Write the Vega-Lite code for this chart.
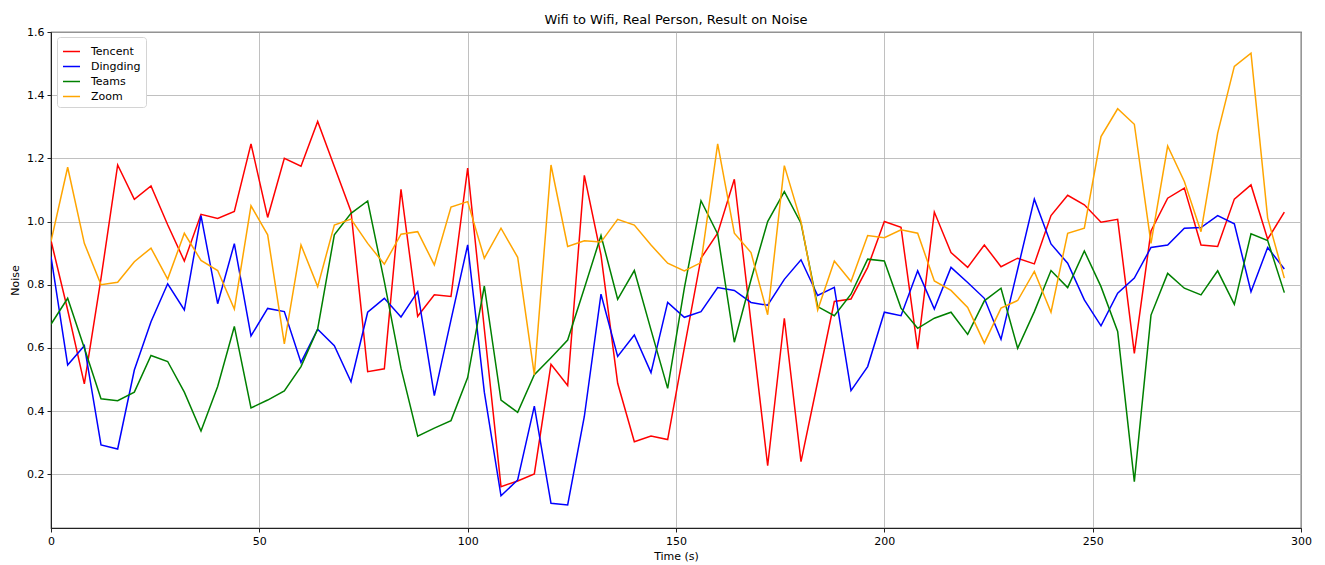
{
  "$schema": "https://vega.github.io/schema/vega-lite/v6.json",
  "width": 1250,
  "height": 496,
  "autosize": {"type": "none"},
  "padding": {"left": 51, "top": 32, "right": 24, "bottom": 37},
  "background": "white",
  "title": {
    "text": "Wifi to Wifi, Real Person, Result on Noise",
    "fontSize": 13,
    "fontWeight": "normal",
    "font": "DejaVu Sans",
    "color": "black",
    "anchor": "middle",
    "offset": -1
  },
  "config": {
    "font": "DejaVu Sans",
    "view": {"stroke": "#222222", "strokeWidth": 1.2},
    "axis": {
      "labelFont": "DejaVu Sans",
      "titleFont": "DejaVu Sans",
      "labelFontSize": 11,
      "titleFontSize": 11,
      "titleFontWeight": "normal",
      "labelColor": "black",
      "titleColor": "black",
      "domainColor": "#222222",
      "tickColor": "#222222",
      "tickSize": 4,
      "gridColor": "#b0b0b0",
      "gridWidth": 0.8,
      "labelPadding": 3
    },
    "legend": {
      "labelFont": "DejaVu Sans",
      "labelFontSize": 11,
      "labelColor": "black",
      "symbolType": "stroke",
      "symbolSize": 289,
      "symbolStrokeWidth": 1.5,
      "rowPadding": 0,
      "padding": 5,
      "strokeColor": "#d4d4d4",
      "fillColor": "white",
      "cornerRadius": 3,
      "labelOffset": 10
    }
  },
  "data": {
    "values": [
      {"t": 0, "app": "Tencent", "noise": 0.94}, {"t": 4, "app": "Tencent", "noise": 0.72}, {"t": 8, "app": "Tencent", "noise": 0.486}, {"t": 12, "app": "Tencent", "noise": 0.82}, {"t": 16, "app": "Tencent", "noise": 1.179}, {"t": 20, "app": "Tencent", "noise": 1.07}, {"t": 24, "app": "Tencent", "noise": 1.113}, {"t": 28, "app": "Tencent", "noise": 0.99}, {"t": 32, "app": "Tencent", "noise": 0.875}, {"t": 36, "app": "Tencent", "noise": 1.023}, {"t": 40, "app": "Tencent", "noise": 1.01}, {"t": 44, "app": "Tencent", "noise": 1.032}, {"t": 48, "app": "Tencent", "noise": 1.246},
      {"t": 52, "app": "Tencent", "noise": 1.013}, {"t": 56, "app": "Tencent", "noise": 1.2}, {"t": 60, "app": "Tencent", "noise": 1.175}, {"t": 64, "app": "Tencent", "noise": 1.317}, {"t": 68, "app": "Tencent", "noise": 1.174}, {"t": 72, "app": "Tencent", "noise": 1.032}, {"t": 76, "app": "Tencent", "noise": 0.525}, {"t": 80, "app": "Tencent", "noise": 0.534}, {"t": 84, "app": "Tencent", "noise": 1.102}, {"t": 88, "app": "Tencent", "noise": 0.7}, {"t": 92, "app": "Tencent", "noise": 0.768}, {"t": 96, "app": "Tencent", "noise": 0.763}, {"t": 100, "app": "Tencent", "noise": 1.169},
      {"t": 104, "app": "Tencent", "noise": 0.66}, {"t": 108, "app": "Tencent", "noise": 0.161}, {"t": 112, "app": "Tencent", "noise": 0.179}, {"t": 116, "app": "Tencent", "noise": 0.201}, {"t": 120, "app": "Tencent", "noise": 0.548}, {"t": 124, "app": "Tencent", "noise": 0.481}, {"t": 128, "app": "Tencent", "noise": 1.146}, {"t": 132, "app": "Tencent", "noise": 0.894}, {"t": 136, "app": "Tencent", "noise": 0.488}, {"t": 140, "app": "Tencent", "noise": 0.303}, {"t": 144, "app": "Tencent", "noise": 0.321}, {"t": 148, "app": "Tencent", "noise": 0.31},
      {"t": 152, "app": "Tencent", "noise": 0.6}, {"t": 156, "app": "Tencent", "noise": 0.884}, {"t": 160, "app": "Tencent", "noise": 0.963}, {"t": 164, "app": "Tencent", "noise": 1.134}, {"t": 168, "app": "Tencent", "noise": 0.68}, {"t": 172, "app": "Tencent", "noise": 0.227}, {"t": 176, "app": "Tencent", "noise": 0.694}, {"t": 180, "app": "Tencent", "noise": 0.24}, {"t": 184, "app": "Tencent", "noise": 0.493}, {"t": 188, "app": "Tencent", "noise": 0.747}, {"t": 192, "app": "Tencent", "noise": 0.755}, {"t": 196, "app": "Tencent", "noise": 0.855}, {"t": 200, "app": "Tencent", "noise": 1.0},
      {"t": 204, "app": "Tencent", "noise": 0.982}, {"t": 208, "app": "Tencent", "noise": 0.596}, {"t": 212, "app": "Tencent", "noise": 1.03}, {"t": 216, "app": "Tencent", "noise": 0.902}, {"t": 220, "app": "Tencent", "noise": 0.855}, {"t": 224, "app": "Tencent", "noise": 0.926}, {"t": 228, "app": "Tencent", "noise": 0.857}, {"t": 232, "app": "Tencent", "noise": 0.884}, {"t": 236, "app": "Tencent", "noise": 0.866}, {"t": 240, "app": "Tencent", "noise": 1.019}, {"t": 244, "app": "Tencent", "noise": 1.083}, {"t": 248, "app": "Tencent", "noise": 1.053},
      {"t": 252, "app": "Tencent", "noise": 0.998}, {"t": 256, "app": "Tencent", "noise": 1.007}, {"t": 260, "app": "Tencent", "noise": 0.583}, {"t": 264, "app": "Tencent", "noise": 0.97}, {"t": 268, "app": "Tencent", "noise": 1.074}, {"t": 272, "app": "Tencent", "noise": 1.106}, {"t": 276, "app": "Tencent", "noise": 0.926}, {"t": 280, "app": "Tencent", "noise": 0.921}, {"t": 284, "app": "Tencent", "noise": 1.071}, {"t": 288, "app": "Tencent", "noise": 1.116}, {"t": 292, "app": "Tencent", "noise": 0.944}, {"t": 296, "app": "Tencent", "noise": 1.03},

      {"t": 0, "app": "Dingding", "noise": 0.889}, {"t": 4, "app": "Dingding", "noise": 0.546}, {"t": 8, "app": "Dingding", "noise": 0.607}, {"t": 12, "app": "Dingding", "noise": 0.293}, {"t": 16, "app": "Dingding", "noise": 0.28}, {"t": 20, "app": "Dingding", "noise": 0.53}, {"t": 24, "app": "Dingding", "noise": 0.683}, {"t": 28, "app": "Dingding", "noise": 0.803}, {"t": 32, "app": "Dingding", "noise": 0.72}, {"t": 36, "app": "Dingding", "noise": 1.019}, {"t": 40, "app": "Dingding", "noise": 0.74}, {"t": 44, "app": "Dingding", "noise": 0.93}, {"t": 48, "app": "Dingding", "noise": 0.638},
      {"t": 52, "app": "Dingding", "noise": 0.725}, {"t": 56, "app": "Dingding", "noise": 0.715}, {"t": 60, "app": "Dingding", "noise": 0.554}, {"t": 64, "app": "Dingding", "noise": 0.659}, {"t": 68, "app": "Dingding", "noise": 0.607}, {"t": 72, "app": "Dingding", "noise": 0.493}, {"t": 76, "app": "Dingding", "noise": 0.713}, {"t": 80, "app": "Dingding", "noise": 0.757}, {"t": 84, "app": "Dingding", "noise": 0.698}, {"t": 88, "app": "Dingding", "noise": 0.778}, {"t": 92, "app": "Dingding", "noise": 0.449}, {"t": 96, "app": "Dingding", "noise": 0.689}, {"t": 100, "app": "Dingding", "noise": 0.926},
      {"t": 104, "app": "Dingding", "noise": 0.46}, {"t": 108, "app": "Dingding", "noise": 0.132}, {"t": 112, "app": "Dingding", "noise": 0.182}, {"t": 116, "app": "Dingding", "noise": 0.416}, {"t": 120, "app": "Dingding", "noise": 0.108}, {"t": 124, "app": "Dingding", "noise": 0.103}, {"t": 128, "app": "Dingding", "noise": 0.383}, {"t": 132, "app": "Dingding", "noise": 0.77}, {"t": 136, "app": "Dingding", "noise": 0.573}, {"t": 140, "app": "Dingding", "noise": 0.641}, {"t": 144, "app": "Dingding", "noise": 0.522}, {"t": 148, "app": "Dingding", "noise": 0.744},
      {"t": 152, "app": "Dingding", "noise": 0.697}, {"t": 156, "app": "Dingding", "noise": 0.715}, {"t": 160, "app": "Dingding", "noise": 0.791}, {"t": 164, "app": "Dingding", "noise": 0.782}, {"t": 168, "app": "Dingding", "noise": 0.744}, {"t": 172, "app": "Dingding", "noise": 0.735}, {"t": 176, "app": "Dingding", "noise": 0.817}, {"t": 180, "app": "Dingding", "noise": 0.879}, {"t": 184, "app": "Dingding", "noise": 0.766}, {"t": 188, "app": "Dingding", "noise": 0.792}, {"t": 192, "app": "Dingding", "noise": 0.465}, {"t": 196, "app": "Dingding", "noise": 0.541}, {"t": 200, "app": "Dingding", "noise": 0.713},
      {"t": 204, "app": "Dingding", "noise": 0.702}, {"t": 208, "app": "Dingding", "noise": 0.844}, {"t": 212, "app": "Dingding", "noise": 0.723}, {"t": 216, "app": "Dingding", "noise": 0.855}, {"t": 220, "app": "Dingding", "noise": 0.807}, {"t": 224, "app": "Dingding", "noise": 0.757}, {"t": 228, "app": "Dingding", "noise": 0.627}, {"t": 232, "app": "Dingding", "noise": 0.849}, {"t": 236, "app": "Dingding", "noise": 1.071}, {"t": 240, "app": "Dingding", "noise": 0.929}, {"t": 244, "app": "Dingding", "noise": 0.868}, {"t": 248, "app": "Dingding", "noise": 0.752},
      {"t": 252, "app": "Dingding", "noise": 0.67}, {"t": 256, "app": "Dingding", "noise": 0.773}, {"t": 260, "app": "Dingding", "noise": 0.821}, {"t": 264, "app": "Dingding", "noise": 0.918}, {"t": 268, "app": "Dingding", "noise": 0.926}, {"t": 272, "app": "Dingding", "noise": 0.979}, {"t": 276, "app": "Dingding", "noise": 0.981}, {"t": 280, "app": "Dingding", "noise": 1.019}, {"t": 284, "app": "Dingding", "noise": 0.993}, {"t": 288, "app": "Dingding", "noise": 0.778}, {"t": 292, "app": "Dingding", "noise": 0.918}, {"t": 296, "app": "Dingding", "noise": 0.85},

      {"t": 0, "app": "Teams", "noise": 0.675}, {"t": 4, "app": "Teams", "noise": 0.757}, {"t": 8, "app": "Teams", "noise": 0.6}, {"t": 12, "app": "Teams", "noise": 0.439}, {"t": 16, "app": "Teams", "noise": 0.433}, {"t": 20, "app": "Teams", "noise": 0.46}, {"t": 24, "app": "Teams", "noise": 0.576}, {"t": 28, "app": "Teams", "noise": 0.557}, {"t": 32, "app": "Teams", "noise": 0.46}, {"t": 36, "app": "Teams", "noise": 0.337}, {"t": 40, "app": "Teams", "noise": 0.478}, {"t": 44, "app": "Teams", "noise": 0.668}, {"t": 48, "app": "Teams", "noise": 0.41},
      {"t": 52, "app": "Teams", "noise": 0.435}, {"t": 56, "app": "Teams", "noise": 0.464}, {"t": 60, "app": "Teams", "noise": 0.541}, {"t": 64, "app": "Teams", "noise": 0.66}, {"t": 68, "app": "Teams", "noise": 0.958}, {"t": 72, "app": "Teams", "noise": 1.026}, {"t": 76, "app": "Teams", "noise": 1.065}, {"t": 80, "app": "Teams", "noise": 0.81}, {"t": 84, "app": "Teams", "noise": 0.536}, {"t": 88, "app": "Teams", "noise": 0.321}, {"t": 92, "app": "Teams", "noise": 0.346}, {"t": 96, "app": "Teams", "noise": 0.37}, {"t": 100, "app": "Teams", "noise": 0.506},
      {"t": 104, "app": "Teams", "noise": 0.796}, {"t": 108, "app": "Teams", "noise": 0.435}, {"t": 112, "app": "Teams", "noise": 0.396}, {"t": 116, "app": "Teams", "noise": 0.515}, {"t": 120, "app": "Teams", "noise": 0.569}, {"t": 124, "app": "Teams", "noise": 0.625}, {"t": 128, "app": "Teams", "noise": 0.789}, {"t": 132, "app": "Teams", "noise": 0.956}, {"t": 136, "app": "Teams", "noise": 0.754}, {"t": 140, "app": "Teams", "noise": 0.845}, {"t": 144, "app": "Teams", "noise": 0.657}, {"t": 148, "app": "Teams", "noise": 0.472},
      {"t": 152, "app": "Teams", "noise": 0.789}, {"t": 156, "app": "Teams", "noise": 1.066}, {"t": 160, "app": "Teams", "noise": 0.961}, {"t": 164, "app": "Teams", "noise": 0.618}, {"t": 168, "app": "Teams", "noise": 0.816}, {"t": 172, "app": "Teams", "noise": 1.0}, {"t": 176, "app": "Teams", "noise": 1.095}, {"t": 180, "app": "Teams", "noise": 0.995}, {"t": 184, "app": "Teams", "noise": 0.731}, {"t": 188, "app": "Teams", "noise": 0.702}, {"t": 192, "app": "Teams", "noise": 0.77}, {"t": 196, "app": "Teams", "noise": 0.881}, {"t": 200, "app": "Teams", "noise": 0.875},
      {"t": 204, "app": "Teams", "noise": 0.726}, {"t": 208, "app": "Teams", "noise": 0.662}, {"t": 212, "app": "Teams", "noise": 0.694}, {"t": 216, "app": "Teams", "noise": 0.713}, {"t": 220, "app": "Teams", "noise": 0.643}, {"t": 224, "app": "Teams", "noise": 0.749}, {"t": 228, "app": "Teams", "noise": 0.789}, {"t": 232, "app": "Teams", "noise": 0.599}, {"t": 236, "app": "Teams", "noise": 0.715}, {"t": 240, "app": "Teams", "noise": 0.845}, {"t": 244, "app": "Teams", "noise": 0.791}, {"t": 248, "app": "Teams", "noise": 0.907},
      {"t": 252, "app": "Teams", "noise": 0.794}, {"t": 256, "app": "Teams", "noise": 0.652}, {"t": 260, "app": "Teams", "noise": 0.177}, {"t": 264, "app": "Teams", "noise": 0.704}, {"t": 268, "app": "Teams", "noise": 0.836}, {"t": 272, "app": "Teams", "noise": 0.789}, {"t": 276, "app": "Teams", "noise": 0.768}, {"t": 280, "app": "Teams", "noise": 0.844}, {"t": 284, "app": "Teams", "noise": 0.738}, {"t": 288, "app": "Teams", "noise": 0.961}, {"t": 292, "app": "Teams", "noise": 0.94}, {"t": 296, "app": "Teams", "noise": 0.775},

      {"t": 0, "app": "Zoom", "noise": 0.937}, {"t": 4, "app": "Zoom", "noise": 1.172}, {"t": 8, "app": "Zoom", "noise": 0.931}, {"t": 12, "app": "Zoom", "noise": 0.8}, {"t": 16, "app": "Zoom", "noise": 0.808}, {"t": 20, "app": "Zoom", "noise": 0.873}, {"t": 24, "app": "Zoom", "noise": 0.916}, {"t": 28, "app": "Zoom", "noise": 0.818}, {"t": 32, "app": "Zoom", "noise": 0.963}, {"t": 36, "app": "Zoom", "noise": 0.877}, {"t": 40, "app": "Zoom", "noise": 0.845}, {"t": 44, "app": "Zoom", "noise": 0.723}, {"t": 48, "app": "Zoom", "noise": 1.05},
      {"t": 52, "app": "Zoom", "noise": 0.958}, {"t": 56, "app": "Zoom", "noise": 0.613}, {"t": 60, "app": "Zoom", "noise": 0.926}, {"t": 64, "app": "Zoom", "noise": 0.794}, {"t": 68, "app": "Zoom", "noise": 0.989}, {"t": 72, "app": "Zoom", "noise": 1.008}, {"t": 76, "app": "Zoom", "noise": 0.931}, {"t": 80, "app": "Zoom", "noise": 0.865}, {"t": 84, "app": "Zoom", "noise": 0.96}, {"t": 88, "app": "Zoom", "noise": 0.968}, {"t": 92, "app": "Zoom", "noise": 0.863}, {"t": 96, "app": "Zoom", "noise": 1.046}, {"t": 100, "app": "Zoom", "noise": 1.063},
      {"t": 104, "app": "Zoom", "noise": 0.884}, {"t": 108, "app": "Zoom", "noise": 0.979}, {"t": 112, "app": "Zoom", "noise": 0.887}, {"t": 116, "app": "Zoom", "noise": 0.515}, {"t": 120, "app": "Zoom", "noise": 1.179}, {"t": 124, "app": "Zoom", "noise": 0.921}, {"t": 128, "app": "Zoom", "noise": 0.939}, {"t": 132, "app": "Zoom", "noise": 0.935}, {"t": 136, "app": "Zoom", "noise": 1.007}, {"t": 140, "app": "Zoom", "noise": 0.989}, {"t": 144, "app": "Zoom", "noise": 0.926}, {"t": 148, "app": "Zoom", "noise": 0.868},
      {"t": 152, "app": "Zoom", "noise": 0.844}, {"t": 156, "app": "Zoom", "noise": 0.87}, {"t": 160, "app": "Zoom", "noise": 1.246}, {"t": 164, "app": "Zoom", "noise": 0.963}, {"t": 168, "app": "Zoom", "noise": 0.902}, {"t": 172, "app": "Zoom", "noise": 0.705}, {"t": 176, "app": "Zoom", "noise": 1.177}, {"t": 180, "app": "Zoom", "noise": 1.0}, {"t": 184, "app": "Zoom", "noise": 0.72}, {"t": 188, "app": "Zoom", "noise": 0.875}, {"t": 192, "app": "Zoom", "noise": 0.81}, {"t": 196, "app": "Zoom", "noise": 0.956}, {"t": 200, "app": "Zoom", "noise": 0.949},
      {"t": 204, "app": "Zoom", "noise": 0.974}, {"t": 208, "app": "Zoom", "noise": 0.963}, {"t": 212, "app": "Zoom", "noise": 0.812}, {"t": 216, "app": "Zoom", "noise": 0.782}, {"t": 220, "app": "Zoom", "noise": 0.728}, {"t": 224, "app": "Zoom", "noise": 0.615}, {"t": 228, "app": "Zoom", "noise": 0.726}, {"t": 232, "app": "Zoom", "noise": 0.75}, {"t": 236, "app": "Zoom", "noise": 0.842}, {"t": 240, "app": "Zoom", "noise": 0.713}, {"t": 244, "app": "Zoom", "noise": 0.963}, {"t": 248, "app": "Zoom", "noise": 0.979},
      {"t": 252, "app": "Zoom", "noise": 1.269}, {"t": 256, "app": "Zoom", "noise": 1.357}, {"t": 260, "app": "Zoom", "noise": 1.308}, {"t": 264, "app": "Zoom", "noise": 0.931}, {"t": 268, "app": "Zoom", "noise": 1.239}, {"t": 272, "app": "Zoom", "noise": 1.127}, {"t": 276, "app": "Zoom", "noise": 0.968}, {"t": 280, "app": "Zoom", "noise": 1.28}, {"t": 284, "app": "Zoom", "noise": 1.491}, {"t": 288, "app": "Zoom", "noise": 1.533}, {"t": 292, "app": "Zoom", "noise": 1.011}, {"t": 296, "app": "Zoom", "noise": 0.821}
    ]
  },
  "mark": {"type": "line", "strokeWidth": 1.5, "clip": true},
  "encoding": {
    "x": {
      "field": "t",
      "type": "quantitative",
      "title": "Time (s)",
      "scale": {"domain": [0, 300], "nice": false, "zero": false},
      "axis": {"values": [0, 50, 100, 150, 200, 250, 300], "format": "d", "titlePadding": 4, "labelFlush": false}
    },
    "y": {
      "field": "noise",
      "type": "quantitative",
      "title": "Noise",
      "scale": {"domain": [0.03, 1.6], "nice": false, "zero": false},
      "axis": {"values": [0.2, 0.4, 0.6, 0.8, 1.0, 1.2, 1.4, 1.6], "format": ".1f", "titlePadding": 6, "labelFlush": false}
    },
    "color": {
      "field": "app",
      "type": "nominal",
      "sort": ["Tencent", "Dingding", "Teams", "Zoom"],
      "scale": {
        "domain": ["Tencent", "Dingding", "Teams", "Zoom"],
        "range": ["#ff0000", "#0000ff", "#008000", "#ffa500"]
      },
      "legend": {"title": null, "orient": "none", "legendX": 6, "legendY": 5}
    }
  }
}
